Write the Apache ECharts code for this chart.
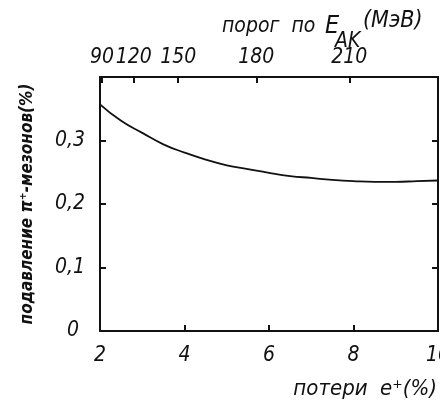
<!DOCTYPE html>
<html>
<head>
<meta charset="utf-8">
<script src="https://cdn.jsdelivr.net/npm/echarts@6/dist/echarts.min.js"></script>
<style>
  html, body { margin: 0; padding: 0; background: #fff; }
  #chart { width: 440px; height: 402px; }
</style>
</head>
<body>
<div id="chart"></div>
<script>
// потери e+ (%) -- нижняя ось
var lossX = [2, 2.5, 3, 3.5, 4, 4.5, 5, 5.5, 6, 6.5, 7, 7.5, 8, 8.5, 9, 9.5, 10];
// подавление pi+ (%)
var suppression = [0.357, 0.331, 0.312, 0.294, 0.281, 0.270, 0.261, 0.255, 0.249,
                   0.244, 0.241, 0.238, 0.236, 0.235, 0.235, 0.236, 0.237];
// верхняя ось: порог по E_AK (МэВ) и где он стоит на нижней шкале
var thresholdLabels = [90, 120, 150, 180, 210];
var thresholdPos = [2.05, 2.8, 3.85, 5.7, 7.9];
var yTicks = [0, 0.1, 0.2, 0.3];

var font = '"Liberation Sans Narrow", "DejaVu Sans Condensed", "Liberation Sans", sans-serif';
var ink = '#111';

var chart = echarts.init(document.getElementById('chart'));

var option = {
  backgroundColor: '#fff',
  animation: false,
  grid: { left: 100, right: 2, top: 77, bottom: 71, outerBoundsMode: 'none', containLabel: false },
  xAxis: [{
    type: 'value',
    position: 'bottom',
    min: 2, max: 10, interval: 2,
    axisLine: { onZero: false, lineStyle: { color: ink, width: 2 } },
    axisTick: { inside: true, length: 6, lineStyle: { color: ink, width: 2 } },
    axisLabel: {
      color: ink, fontSize: 21, fontStyle: 'italic', fontFamily: font, margin: 14,
      showMinLabel: true, showMaxLabel: true, hideOverlap: false
    },
    splitLine: { show: false }
  }, {
    type: 'value',
    position: 'top',
    min: 2, max: 10,
    axisLine: { onZero: false, lineStyle: { color: ink, width: 2 } },
    axisTick: { inside: true, length: 6, customValues: thresholdPos, lineStyle: { color: ink, width: 2 } },
    axisLabel: {
      customValues: thresholdPos,
      showMinLabel: true, showMaxLabel: true, hideOverlap: false,
      color: ink, fontSize: 21, fontStyle: 'italic', fontFamily: font, margin: 9,
      formatter: function (v) {
        var i = thresholdPos.indexOf(v);
        return i >= 0 ? String(thresholdLabels[i]) : '';
      }
    },
    splitLine: { show: false }
  }],
  yAxis: [{
    type: 'value',
    position: 'left',
    min: 0, max: 0.4, interval: 0.1,
    axisLine: { show: true, onZero: false, lineStyle: { color: ink, width: 2 } },
    axisTick: { show: true, inside: true, length: 6, lineStyle: { color: ink, width: 2 } },
    axisLabel: {
      customValues: yTicks,
      showMinLabel: true,
      color: ink, fontSize: 21, fontStyle: 'italic', fontFamily: font, margin: 15,
      formatter: function (v) { return v === 0 ? '0 ' : String(+v.toFixed(1)).replace('.', ','); }
    },
    splitLine: { show: false }
  }, {
    type: 'value',
    position: 'right',
    min: 0, max: 0.4, interval: 0.1,
    axisLine: { show: true, onZero: false, lineStyle: { color: ink, width: 2 } },
    axisTick: { show: true, inside: true, length: 6, lineStyle: { color: ink, width: 2 } },
    axisLabel: { show: false },
    splitLine: { show: false }
  }],
  series: [{
    type: 'line',
    smooth: true,
    showSymbol: false,
    xAxisIndex: 0,
    yAxisIndex: 0,
    lineStyle: { color: ink, width: 1.8 },
    data: lossX.map(function (x, i) { return [x, suppression[i]]; })
  }],
  graphic: [{
    type: 'text', left: 222, top: 16,
    style: { text: 'порог  по', fill: ink, font: 'italic 21px ' + font }
  }, {
    type: 'text', left: 325, top: 14,
    style: { text: 'E', fill: ink, font: 'italic 25px ' + font }
  }, {
    type: 'text', left: 335, top: 31,
    style: { text: 'AK', fill: ink, font: 'italic 21px ' + font }
  }, {
    type: 'text', left: 363, top: 10,
    style: { text: '(МэВ)', fill: ink, font: 'italic 23px ' + font }
  }, {
    type: 'text', x: 28, y: 204, rotation: Math.PI / 2,
    style: {
      text: 'подавление π⁺-мезонов(%)', fill: ink,
      font: 'italic bold 17px ' + font, align: 'center', verticalAlign: 'middle'
    }
  }, {
    type: 'text', right: 3, top: 378,
    style: { text: 'потери  e⁺(%)', fill: ink, font: 'italic 22px ' + font }
  }]
};

chart.setOption(option);
</script>
</body>
</html>
